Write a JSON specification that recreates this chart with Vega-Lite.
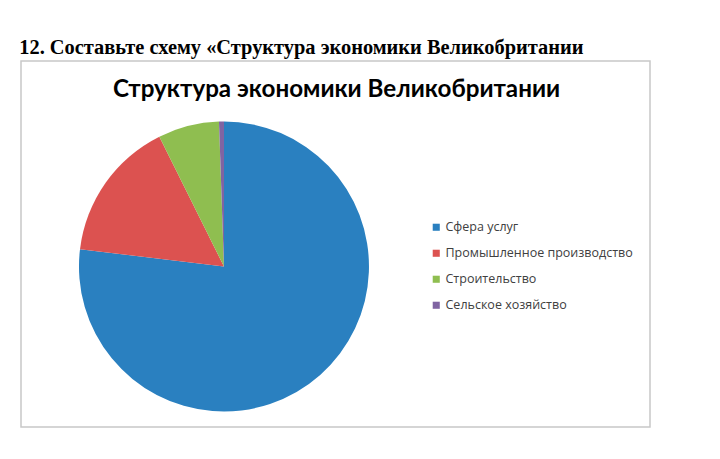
{
  "$schema": "https://vega.github.io/schema/vega-lite/v6.json",
  "background": "white",
  "padding": {"left": 19, "top": 37, "right": 72, "bottom": 35},
  "width": 629,
  "height": 366,
  "title": {
    "text": "12. Составьте схему «Структура экономики Великобритании",
    "anchor": "start",
    "font": "Liberation Serif",
    "fontSize": 20.4,
    "fontWeight": "bold",
    "color": "#000000",
    "offset": 2,
    "dx": -1
  },
  "layer": [
    {
      "data": {"values": [{"frame": "box"}]},
      "mark": {"type": "rect", "fill": null, "fillOpacity": 0, "stroke": "#c8c8c8", "strokeWidth": 1.5},
      "encoding": {}
    },
    {
      "data": {
        "values": [
          {"sector": "Сфера услуг", "share": 76.9, "order": 1},
          {"sector": "Промышленное производство", "share": 15.75, "order": 2},
          {"sector": "Строительство", "share": 6.8, "order": 3},
          {"sector": "Сельское хозяйство", "share": 0.55, "order": 4}
        ]
      },
      "mark": {
        "type": "arc",
        "x": {"expr": "width*0.3227"},
        "y": {"expr": "height*0.5615"},
        "outerRadius": 145,
        "strokeWidth": 0
      },
      "encoding": {
        "theta": {"field": "share", "type": "quantitative", "stack": true},
        "order": {"field": "order", "type": "quantitative"},
        "color": {
          "field": "sector",
          "type": "nominal",
          "scale": {
            "domain": ["Сфера услуг", "Промышленное производство", "Строительство", "Сельское хозяйство"],
            "range": ["#2a80c0", "#dc5250", "#8fbe50", "#8064a2"]
          },
          "legend": {
            "title": null,
            "orient": "none",
            "legendX": 409,
            "legendY": 160,
            "symbolType": "square",
            "symbolSize": 50,
            "symbolStrokeWidth": 0,
            "labelFont": "Open Sans",
            "labelFontSize": 12.5,
            "labelColor": "#404040",
            "labelOffset": 3,
            "labelLimit": 400,
            "rowPadding": 13
          }
        }
      }
    },
    {
      "data": {"values": [{"t": "Структура экономики Великобритании"}]},
      "mark": {
        "type": "text",
        "font": "Lato",
        "fontSize": 24.2,
        "fontWeight": "bold",
        "color": "#000000",
        "baseline": "middle",
        "align": "center",
        "x": {"expr": "width*0.5016"},
        "y": {"expr": "height*0.079"}
      },
      "encoding": {"text": {"field": "t", "type": "nominal"}}
    }
  ],
  "config": {
    "view": {"stroke": "#c8c8c8", "strokeWidth": 1.5}
  }
}
